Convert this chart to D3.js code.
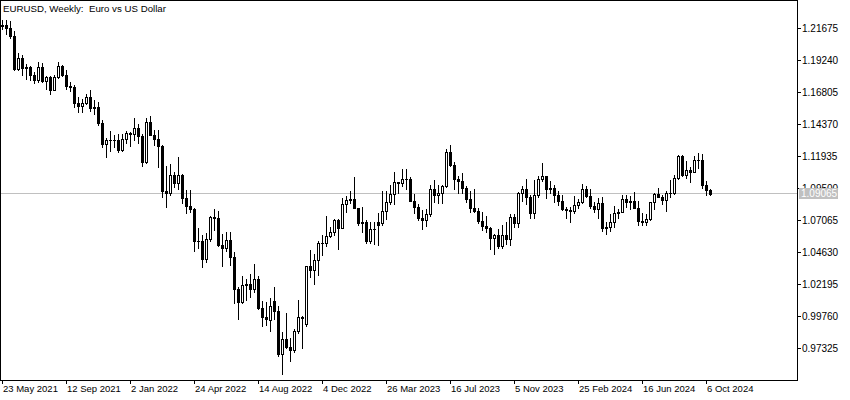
<!DOCTYPE html>
<html>
<head>
<meta charset="utf-8">
<script src="https://cdn.jsdelivr.net/npm/d3@7"></script>
<style>
  html, body { margin: 0; padding: 0; background: #ffffff; }
  svg { display: block; }
  text { font-family: "Liberation Sans", Arial, sans-serif; }
</style>
</head>
<body>
<svg id="chart" width="850" height="400"></svg>
<script>
// ---------------- DATA ----------------
const title = "EURUSD, Weekly:  Euro vs US Dollar";
const firstWeek = "2021-05-23";   // week start of first candle (weekly bars)
const currentPrice = 1.09065;

const opens = [
1.2180,1.2193,1.2167,1.2106,1.1859,1.1936,1.1865,1.1874,1.1808,1.1772,
1.1869,1.1762,1.1795,1.1697,1.1796,1.1880,1.1813,1.1726,1.1720,1.1596,
1.1572,1.1600,1.1645,1.1560,1.1568,1.1445,1.1288,1.1318,1.1316,1.1315,
1.1240,1.1320,1.1370,1.1360,1.1410,1.1345,1.1145,1.1450,1.1350,1.1320,
1.1270,1.0930,1.0915,1.1050,1.0985,1.1050,1.0875,1.0810,1.0790,1.0545,
1.0550,1.0410,1.0560,1.0730,1.0720,1.0520,1.0495,1.0555,1.0425,1.0185,
1.0080,1.0210,1.0220,1.0180,1.0260,1.0040,0.9965,0.9945,1.0090,1.0015,
0.9690,0.9800,0.9740,0.9720,0.9860,0.9965,0.9915,1.0355,1.0325,1.0400,
1.0535,1.0530,1.0585,1.0615,1.0705,1.0645,1.0830,1.0855,1.0870,1.0795,
1.0680,1.0695,1.0545,1.0635,1.0688,1.0686,1.0775,1.0845,1.0905,1.0995,
1.0990,1.1020,1.1020,1.0850,1.0805,1.0720,1.0710,1.0750,1.0940,1.0895,
1.0910,1.0965,1.1225,1.1125,1.1015,1.1005,1.0950,1.0870,1.0795,1.0775,
1.0700,1.0660,1.0645,1.0573,1.0590,1.0510,1.0595,1.0565,1.0730,1.0685,
1.0915,1.0940,1.0880,1.0760,1.0895,1.1015,1.1040,1.0940,1.0950,1.0895,
1.0850,1.0790,1.0785,1.0775,1.0820,1.0840,1.0940,1.0890,1.0810,1.0790,
1.0838,1.0642,1.0655,1.0695,1.0760,1.0770,1.0870,1.0847,1.0850,1.0800,
1.0700,1.0692,1.0712,1.0840,1.0905,1.0885,1.0855,1.0910,1.0915,1.1025,
1.1190,1.1050,1.1085,1.1075,1.1165,1.1165,1.0975,1.0935
];
const highs = [
1.2225,1.2230,1.2218,1.2145,1.1975,1.1960,1.1895,1.1880,1.1832,1.1909,
1.1900,1.1805,1.1804,1.1810,1.1909,1.1885,1.1846,1.1753,1.1730,1.1640,
1.1624,1.1668,1.1692,1.1616,1.1608,1.1464,1.1330,1.1383,1.1355,1.1360,
1.1360,1.1386,1.1374,1.1482,1.1436,1.1360,1.1483,1.1495,1.1395,1.1390,
1.1280,1.1120,1.1135,1.1070,1.1185,1.1055,1.0935,1.0936,1.0795,1.0642,
1.0590,1.0608,1.0737,1.0787,1.0774,1.0601,1.0613,1.0615,1.0465,1.0196,
1.0278,1.0254,1.0293,1.0368,1.0280,1.0090,1.0080,1.0112,1.0198,1.0050,
0.9855,0.9999,0.9810,0.9875,1.0094,0.9977,1.0360,1.0480,1.0448,1.0545,
1.0594,1.0737,1.0657,1.0714,1.0713,1.0875,1.0887,1.0930,1.1033,1.0795,
1.0805,1.0705,1.0690,1.0695,1.0760,1.0930,1.0925,1.0973,1.1075,1.0998,
1.1095,1.1093,1.1030,1.0905,1.0830,1.0780,1.0790,1.0970,1.1010,1.0976,
1.0970,1.1245,1.1276,1.1149,1.1045,1.1065,1.0965,1.0930,1.0945,1.0800,
1.0770,1.0737,1.0655,1.0600,1.0640,1.0668,1.0695,1.0750,1.0755,1.0920,
1.0965,1.1017,1.0895,1.1009,1.1040,1.1139,1.1045,1.1000,1.0970,1.0930,
1.0897,1.0805,1.0805,1.0888,1.0865,1.0980,1.0964,1.0942,1.0840,1.0875,
1.0885,1.0690,1.0752,1.0812,1.0790,1.0895,1.0895,1.0890,1.0917,1.0850,
1.0760,1.0750,1.0845,1.0910,1.0948,1.0900,1.0925,1.1009,1.1047,1.1202,
1.1200,1.1155,1.1110,1.1190,1.1214,1.1210,1.1000,1.0940
];
const lows = [
1.2160,1.2120,1.2093,1.1847,1.1848,1.1807,1.1782,1.1771,1.1751,1.1755,
1.1760,1.1705,1.1664,1.1695,1.1785,1.1801,1.1700,1.1685,1.1563,1.1529,
1.1525,1.1590,1.1535,1.1513,1.1432,1.1263,1.1186,1.1235,1.1262,1.1222,
1.1234,1.1292,1.1272,1.1315,1.1290,1.1121,1.1140,1.1374,1.1280,1.1106,
1.0885,1.0806,1.0900,1.0960,1.0945,1.0837,1.0757,1.0771,1.0471,1.0490,
1.0349,1.0390,1.0550,1.0627,1.0510,1.0359,1.0470,1.0365,1.0072,0.9952,
1.0075,1.0097,1.0123,1.0159,1.0033,0.9900,0.9910,0.9865,0.9956,0.9675,
0.9536,0.9730,0.9633,0.9705,0.9850,0.9730,0.9900,1.0270,1.0223,1.0290,
1.0443,1.0505,1.0575,1.0590,1.0483,1.0645,1.0766,1.0835,1.0795,1.0670,
1.0613,1.0533,1.0533,1.0525,1.0516,1.0670,1.0715,1.0830,1.0830,1.0910,
1.0965,1.0940,1.0850,1.0760,1.0710,1.0635,1.0660,1.0735,1.0840,1.0835,
1.0833,1.0960,1.1120,1.0945,1.0910,1.0911,1.0845,1.0766,1.0770,1.0686,
1.0630,1.0617,1.0488,1.0448,1.0495,1.0495,1.0522,1.0516,1.0655,1.0655,
1.0852,1.0830,1.0724,1.0724,1.0880,1.1000,1.0877,1.0910,1.0845,1.0820,
1.0780,1.0722,1.0695,1.0760,1.0795,1.0835,1.0880,1.0800,1.0770,1.0725,
1.0620,1.0600,1.0625,1.0650,1.0725,1.0765,1.0805,1.0790,1.0800,1.0667,
1.0671,1.0665,1.0710,1.0790,1.0880,1.0825,1.0777,1.0880,1.0905,1.1020,
1.1045,1.1025,1.0999,1.1070,1.1105,1.0950,1.0900,1.0895
];
const closes = [
1.2193,1.2167,1.2106,1.1859,1.1936,1.1865,1.1874,1.1808,1.1772,1.1869,
1.1762,1.1795,1.1697,1.1796,1.1880,1.1813,1.1726,1.1720,1.1596,1.1572,
1.1600,1.1645,1.1560,1.1568,1.1445,1.1288,1.1318,1.1316,1.1315,1.1240,
1.1320,1.1370,1.1360,1.1410,1.1345,1.1145,1.1450,1.1350,1.1320,1.1270,
1.0930,1.0915,1.1050,1.0985,1.1050,1.0875,1.0810,1.0790,1.0545,1.0550,
1.0410,1.0560,1.0730,1.0720,1.0520,1.0495,1.0555,1.0425,1.0185,1.0080,
1.0210,1.0220,1.0180,1.0260,1.0040,0.9965,0.9955,1.0050,1.0015,0.9690,
0.9800,0.9740,0.9720,0.9860,0.9965,0.9960,1.0355,1.0325,1.0400,1.0535,
1.0530,1.0585,1.0615,1.0705,1.0645,1.0830,1.0855,1.0870,1.0795,1.0680,
1.0695,1.0545,1.0635,1.0640,1.0668,1.0775,1.0845,1.0905,1.0995,1.0990,
1.1020,1.1020,1.0850,1.0805,1.0720,1.0710,1.0750,1.0940,1.0895,1.0910,
1.0965,1.1225,1.1125,1.1015,1.1005,1.0950,1.0870,1.0795,1.0775,1.0700,
1.0660,1.0645,1.0573,1.0590,1.0510,1.0595,1.0565,1.0730,1.0685,1.0915,
1.0940,1.0880,1.0760,1.0895,1.1015,1.1040,1.0940,1.0950,1.0895,1.0850,
1.0790,1.0785,1.0775,1.0820,1.0840,1.0940,1.0890,1.0810,1.0790,1.0838,
1.0642,1.0655,1.0695,1.0760,1.0770,1.0870,1.0847,1.0850,1.0800,1.0700,
1.0692,1.0712,1.0840,1.0905,1.0885,1.0855,1.0910,1.0915,1.1025,1.1190,
1.1050,1.1085,1.1075,1.1165,1.1165,1.0975,1.0935,1.09065
];

const yTickValues = [1.21675,1.19240,1.16805,1.14370,1.11935,1.09500,1.07065,1.04630,1.02195,0.99760,0.97325];
const yTickLabels = ["1.21675","1.19240","1.16805","1.14370","1.11935","1.09500","1.07065","1.04630","1.02195","0.99760","0.97325"];

const xTickDates = ["2021-05-23","2021-09-12","2022-01-02","2022-04-24","2022-08-14","2022-12-04",
                    "2023-03-26","2023-07-16","2023-11-05","2024-02-25","2024-06-16","2024-10-06"];
const xTickLabels = ["23 May 2021","12 Sep 2021","2 Jan 2022","24 Apr 2022","14 Aug 2022","4 Dec 2022",
                     "26 Mar 2023","16 Jul 2023","5 Nov 2023","25 Feb 2024","16 Jun 2024","6 Oct 2024"];

// ---------------- LAYOUT ----------------
const W = 850, H = 400;
const plotRight = 797, plotBottom = 380;

const parse = d3.utcParse("%Y-%m-%d");
const start = parse(firstWeek);
const weeks = d3.utcWeek.range(start, d3.utcWeek.offset(start, closes.length));
const candles = weeks.map((d, i) => ({date: d, o: opens[i], h: highs[i], l: lows[i], c: closes[i]}));

const svg = d3.select("#chart");

// x: one weekly bar every 4px
const x = d3.scaleUtc()
  .domain([weeks[0], weeks[weeks.length - 1]])
  .range([2, 2 + 4 * (weeks.length - 1)]);

// y: price scale fixed by the axis grid
const y = d3.scaleLinear()
  .domain([yTickValues[yTickValues.length - 1], yTickValues[0]])
  .range([348, 28]);

// frame
svg.append("rect")
  .attr("x", 0.5).attr("y", 0.5)
  .attr("width", plotRight - 0.5).attr("height", plotBottom - 0.5)
  .attr("fill", "none").attr("stroke", "#000").attr("shape-rendering", "crispEdges");

// current price line
const pY = Math.round(y(currentPrice)) - 0.5;
svg.append("line")
  .attr("x1", 1).attr("x2", plotRight)
  .attr("y1", pY).attr("y2", pY)
  .attr("stroke", "#c0c0c0").attr("stroke-width", 1).attr("shape-rendering", "crispEdges");

// candles
const g = svg.append("g").attr("shape-rendering", "crispEdges");
candles.forEach(d => {
  const cx = Math.round(x(d.date));
  const yh = Math.round(y(d.h)), yl = Math.round(y(d.l));
  const top = Math.round(y(Math.max(d.o, d.c)));
  const bot = Math.round(y(Math.min(d.o, d.c)));
  g.append("line")
    .attr("x1", cx + 0.5).attr("x2", cx + 0.5)
    .attr("y1", yh).attr("y2", yl + 1)
    .attr("stroke", "#000").attr("stroke-width", 1);
  if (d.c > d.o && bot - top >= 2) {
    g.append("rect")
      .attr("x", cx - 0.5).attr("y", top + 0.5)
      .attr("width", 2).attr("height", bot - top)
      .attr("fill", "#fff").attr("stroke", "#000").attr("stroke-width", 1);
  } else {
    g.append("rect")
      .attr("x", cx - 1).attr("y", top)
      .attr("width", 3).attr("height", Math.max(1, bot - top + 1))
      .attr("fill", "#000");
  }
});

// right price axis
const ya = svg.append("g");
yTickValues.forEach((v, i) => {
  const ty = Math.round(y(v)) + 0.5;
  ya.append("line")
    .attr("x1", plotRight).attr("x2", plotRight + 4)
    .attr("y1", ty).attr("y2", ty)
    .attr("stroke", "#000").attr("shape-rendering", "crispEdges");
  ya.append("text")
    .attr("x", plotRight + 5).attr("y", ty + 3.5)
    .attr("font-size", "10px").attr("fill", "#000")
    .text(yTickLabels[i]);
});

// current price label box
const boxY = Math.round(y(currentPrice)) - 6;
svg.append("rect")
  .attr("x", 799).attr("y", boxY).attr("width", 39).attr("height", 11)
  .attr("fill", "#c0c0c0").attr("shape-rendering", "crispEdges");
svg.append("text")
  .attr("x", 801).attr("y", boxY + 9)
  .attr("font-size", "10px").attr("fill", "#fff")
  .text(d3.format(".5f")(currentPrice));

// bottom time axis
const xa = svg.append("g");
xTickDates.forEach((ds, i) => {
  const tx = Math.round(x(parse(ds))) + 0.5;
  xa.append("line")
    .attr("x1", tx).attr("x2", tx)
    .attr("y1", plotBottom).attr("y2", plotBottom + 4)
    .attr("stroke", "#000").attr("shape-rendering", "crispEdges");
  xa.append("text")
    .attr("x", tx + 0.5).attr("y", plotBottom + 12)
    .attr("font-size", "9.5px").attr("fill", "#000")
    .text(xTickLabels[i]);
});

// title
svg.append("text")
  .attr("x", 3).attr("y", 12)
  .attr("font-size", "9.7px").attr("fill", "#000")
  .style("white-space", "pre")
  .text(title);
</script>
</body>
</html>
